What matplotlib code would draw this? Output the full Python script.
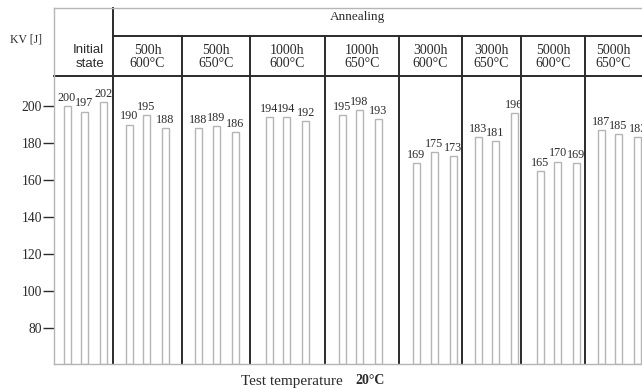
import matplotlib.pyplot as plt
import numpy as np

# Impact energy KV [J] at 20 C, three specimens per state
groups = ["Initial\nstate", "500h\n600°C", "500h\n650°C", "1000h\n600°C", "1000h\n650°C",
          "3000h\n600°C", "3000h\n650°C", "5000h\n600°C", "5000h\n650°C"]
kv = [
    [200, 197, 202],
    [190, 195, 188],
    [188, 189, 186],
    [194, 194, 192],
    [195, 198, 193],
    [169, 175, 173],
    [183, 181, 196],
    [165, 170, 169],
    [187, 185, 183],
]
yticks = [80, 100, 120, 140, 160, 180, 200]

# layout (pixel-like x units inside the axes)
edges = [0, 59, 128, 196, 271, 345, 408, 467, 531, 588]
first_off = [9.5, 12.5, 13, 15.5, 13.5, 14, 12.5, 15.5, 12.5]
steps = [0, 17.5, 36.5]
bar_w = 7
ymin, ymax = 60.7, 252.9

serif = "Liberation Serif"
sans = "Liberation Sans"
dark = "#2b2b2b"
grey = "#b5b5b5"

fig = plt.figure(figsize=(6.42, 3.88), dpi=100)
ax = fig.add_axes([54 / 642, 24 / 388, 588 / 642, 356 / 388])
ax.set_xlim(0, 588)
ax.set_ylim(ymin, ymax)

for g, vals in enumerate(kv):
    xs = [edges[g] + first_off[g] + s for s in steps]
    ax.bar(xs, np.array(vals) - ymin, bottom=ymin, width=bar_w, align="edge",
           facecolor="white", edgecolor=grey, linewidth=1.0, zorder=2)
    for x, v in zip(xs, vals):
        ax.annotate(str(v), (x + bar_w / 2, v), xytext=(0, 1.5), textcoords="offset points",
                    ha="center", va="bottom", fontsize=8.7, family=serif, color=dark,
                    annotation_clip=False)

# table-like header
tr = ax.get_xaxis_transform()
y_head = (364 - 76) / 356
y_ann = (364 - 36) / 356
ax.plot([0, 588], [y_head, y_head], transform=tr, color=dark, lw=1.4, clip_on=False)
ax.plot([edges[1], 588], [y_ann, y_ann], transform=tr, color=dark, lw=1.4, clip_on=False)
ax.plot([edges[1], edges[1]], [0, 1], transform=tr, color=dark, lw=1.4, clip_on=False)
for e in edges[2:-1]:
    ax.plot([e, e], [0, y_ann], transform=tr, color=dark, lw=1.4, clip_on=False)

y_lab = (364 - 57) / 356
ax.text(edges[1] - 9, y_lab, groups[0], transform=tr, ha="right", va="center",
        family=sans, fontsize=9.5, color=dark, linespacing=1.15)
for g in range(1, len(groups)):
    ax.text((edges[g] + edges[g + 1]) / 2, y_lab, groups[g], transform=tr, ha="center",
            va="center", family=serif, fontsize=10, color=dark, linespacing=1.05)
ax.text(304, (364 - 17) / 356, "Annealing", transform=tr, ha="center", va="center",
        family=serif, fontsize=9.5, color=dark)

# axes styling
ax.spines["right"].set_visible(False)
for s in ["left", "bottom", "top"]:
    ax.spines[s].set_color(grey)
    ax.spines[s].set_linewidth(1.0)
ax.set_xticks([])
ax.set_yticks(yticks)
ax.set_yticklabels([str(t) for t in yticks], family=serif, fontsize=9.8, color=dark)
ax.tick_params(axis="y", direction="out", length=8, width=1.0, color=dark, pad=0.5)

fig.text(10 / 642, 1 - 40 / 388, "KV [J]", ha="left", va="center",
         family=serif, fontsize=8.5, color=dark)
fig.text(343 / 642, 1 - 381 / 388, "Test temperature", ha="right", va="center",
         family=serif, fontsize=11, color=dark)
fig.text(355 / 642, 1 - 381 / 388, "20°C", ha="left", va="center",
         family=serif, fontsize=10, weight="bold", color=dark)

fig.savefig("out.png", dpi=100)
